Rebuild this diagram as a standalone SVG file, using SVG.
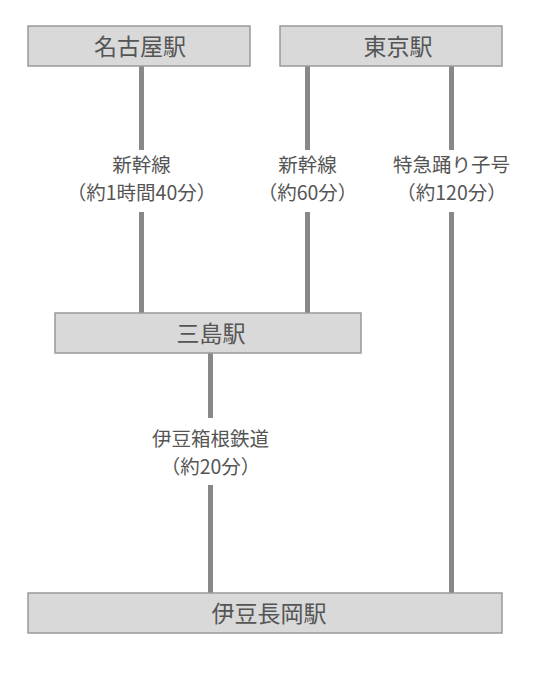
<svg xmlns="http://www.w3.org/2000/svg" width="533" height="675" viewBox="0 0 533 675">
<style>
.box{fill:#d9d9d9;stroke:#999;stroke-width:1.5}
.nt{font-family:"Noto Sans CJK JP","Noto Sans",sans-serif;font-size:23px;fill:#555;text-anchor:middle}
.lt{font-family:"Noto Sans CJK JP","Noto Sans",sans-serif;font-size:19.5px;fill:#555;text-anchor:middle}
.ln{stroke:#888;stroke-width:5;fill:none}
</style>
<rect width="533" height="675" fill="#fff"/>
<g id="connectors">
<line class="ln" x1="141.5" y1="66" x2="141.5" y2="150"/>
<line class="ln" x1="141.5" y1="212" x2="141.5" y2="313"/>
<line class="ln" x1="307.5" y1="66" x2="307.5" y2="150"/>
<line class="ln" x1="307.5" y1="212" x2="307.5" y2="313"/>
<line class="ln" x1="451.5" y1="66" x2="451.5" y2="150"/>
<line class="ln" x1="451.5" y1="212" x2="451.5" y2="593"/>
<line class="ln" x1="210.5" y1="353" x2="210.5" y2="418"/>
<line class="ln" x1="210.5" y1="485" x2="210.5" y2="593"/>
<text class="lt" x="141.5" y="172">新幹線</text>
<text class="lt" x="141.5" y="199.5">（約1時間40分）</text>
<text class="lt" x="307.5" y="172">新幹線</text>
<text class="lt" x="307.5" y="199.5">（約60分）</text>
<text class="lt" x="451.5" y="172">特急踊り子号</text>
<text class="lt" x="451.5" y="199.5">（約120分）</text>
<text class="lt" x="210.5" y="445.5">伊豆箱根鉄道</text>
<text class="lt" x="210.5" y="473.5">（約20分）</text>
</g>
<g id="nagoya"><rect class="box" x="28" y="26" width="222" height="40"/><text class="nt" x="140" y="54.5">名古屋駅</text></g>
<g id="tokyo"><rect class="box" x="280" y="26" width="222" height="40"/><text class="nt" x="398" y="54.5">東京駅</text></g>
<g id="mishima"><rect class="box" x="55" y="313" width="306" height="40"/><text class="nt" x="211" y="341.5">三島駅</text></g>
<g id="izunagaoka"><rect class="box" x="28" y="593" width="474" height="40"/><text class="nt" x="269" y="621.5">伊豆長岡駅</text></g>
</svg>
